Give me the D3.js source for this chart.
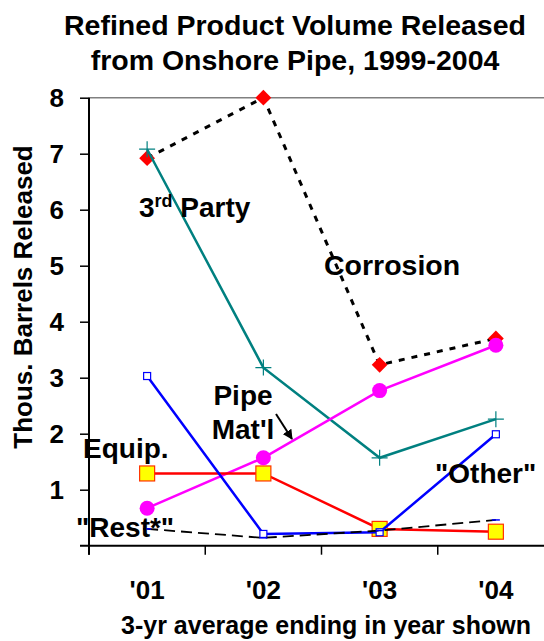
<!DOCTYPE html>
<html>
<head>
<meta charset="utf-8">
<script src="https://cdn.jsdelivr.net/npm/d3@7"></script>
<style>
  body { margin: 0; background: #fff; }
  text { font-family: "Liberation Sans", Arial, sans-serif; font-weight: bold; fill: #000; }
</style>
</head>
<body>
<svg id="chart" width="544" height="641"></svg>
<script>
var width = 544,
    height = 641;

// 3-yr averages, thousand barrels
const years = ["'01", "'02", "'03", "'04"];
const corrosion = [6.92, 8.0, 3.23, 3.7];
const third_party = [7.08, 3.18, 1.57, 2.26];
const pipe_matl = [0.67, 1.57, 2.77, 3.58];
const equip = [1.29, 1.29, 0.30, 0.25];
const other = [3.03, 0.21, 0.24, 1.99];
const rest = [0.30, 0.14, 0.27, 0.46];
const y_ticks = [1, 2, 3, 4, 5, 6, 7, 8];

const plot_left = 89, plot_right = 554, plot_top = 97.7, plot_bottom = 545.7;

var svg = d3.select("#chart");

var x = d3.scaleBand().domain(years).range([plot_left, plot_right]).padding(0);
var y = d3.scaleLinear().domain([0, 8]).range([plot_bottom, plot_top]);

function cx(d, i) {
    return x(years[i]) + x.bandwidth() / 2;
}

// Title
svg.append("text")
    .attr("x", 295).attr("y", 35)
    .attr("text-anchor", "middle")
    .style("font-size", "28.5px")
    .text("Refined Product Volume Released");
svg.append("text")
    .attr("x", 295).attr("y", 70)
    .attr("text-anchor", "middle")
    .style("font-size", "28.5px")
    .text("from Onshore Pipe, 1999-2004");

// top border line at 8
svg.append("line")
    .attr("x1", plot_left).attr("x2", plot_right)
    .attr("y1", y(8)).attr("y2", y(8))
    .attr("stroke", "#808080").attr("stroke-width", 1.5);

// Y axis
var yAxis = d3.axisLeft(y).tickValues(y_ticks).tickSize(9).tickPadding(16);
var gy = svg.append("g").attr("transform", "translate(" + plot_left + ",0)").call(yAxis);
gy.select(".domain").remove();
gy.selectAll(".tick line").attr("stroke", "#000").attr("stroke-width", 1.5);
gy.selectAll(".tick text").style("font-size", "26px").attr("fill", "#000");
svg.append("line")
    .attr("x1", plot_left).attr("x2", plot_left)
    .attr("y1", y(8)).attr("y2", plot_bottom + 9)
    .attr("stroke", "#000").attr("stroke-width", 2);

// X axis
svg.append("line")
    .attr("x1", plot_left - 9).attr("x2", plot_right)
    .attr("y1", plot_bottom).attr("y2", plot_bottom)
    .attr("stroke", "#000").attr("stroke-width", 2);
svg.append("g").selectAll("line")
    .data(years)
    .join("line")
    .attr("x1", function (d) { return x(d); })
    .attr("x2", function (d) { return x(d); })
    .attr("y1", plot_bottom).attr("y2", plot_bottom + 9)
    .attr("stroke", "#000").attr("stroke-width", 1.5);
svg.append("g").selectAll("text")
    .data(years)
    .join("text")
    .attr("x", function (d) { return x(d) + x.bandwidth() / 2; })
    .attr("y", 599)
    .attr("text-anchor", "middle")
    .style("font-size", "26px")
    .text(function (d) { return d; });

svg.append("text")
    .attr("x", 326).attr("y", 634)
    .attr("text-anchor", "middle")
    .style("font-size", "25px")
    .text("3-yr average ending in year shown");

svg.append("text")
    .attr("transform", "translate(32,297) rotate(-90)")
    .attr("text-anchor", "middle")
    .style("font-size", "26px")
    .text("Thous. Barrels Released");

var line = d3.line()
    .x(cx)
    .y(function (d) { return y(d); });

function drawLine(values, color, widthPx, dash) {
    svg.append("path")
        .datum(values)
        .attr("d", line)
        .attr("fill", "none")
        .attr("stroke", color)
        .attr("stroke-width", widthPx)
        .attr("stroke-dasharray", dash);
}

// Corrosion
drawLine(corrosion, "#000", 3, "6,7");
svg.append("g").selectAll("path")
    .data(corrosion)
    .join("path")
    .attr("d", d3.symbol().type(d3.symbolSquare).size(125))
    .attr("transform", function (d, i) { return "translate(" + cx(d, i) + "," + y(d) + ") rotate(45)"; })
    .attr("fill", "#ff0000");

// 3rd Party
drawLine(third_party, "#008080", 2.5, null);
svg.append("g").selectAll("path")
    .data(third_party)
    .join("path")
    .attr("d", "M-8,0H8M0,-8V8")
    .attr("transform", function (d, i) { return "translate(" + cx(d, i) + "," + y(d) + ")"; })
    .attr("stroke", "#008080").attr("stroke-width", 1.2);

// Pipe Mat'l
drawLine(pipe_matl, "#ff00ff", 2.5, null);
svg.append("g").selectAll("circle")
    .data(pipe_matl)
    .join("circle")
    .attr("cx", cx)
    .attr("cy", function (d) { return y(d); })
    .attr("r", 7.5)
    .attr("fill", "#ff00ff");

// Equip.
drawLine(equip, "#ff0000", 2.5, null);
svg.append("g").selectAll("rect")
    .data(equip)
    .join("rect")
    .attr("x", function (d, i) { return cx(d, i) - 7.5; })
    .attr("y", function (d) { return y(d) - 7.5; })
    .attr("width", 15).attr("height", 15)
    .attr("fill", "#ffff00")
    .attr("stroke", "#ff3300").attr("stroke-width", 1.2);

// "Other"
drawLine(other, "#0000ff", 2.5, null);
svg.append("g").selectAll("rect")
    .data(other)
    .join("rect")
    .attr("x", function (d, i) { return cx(d, i) - 3.5; })
    .attr("y", function (d) { return y(d) - 3.5; })
    .attr("width", 7).attr("height", 7)
    .attr("fill", "#fff")
    .attr("stroke", "#0000ff").attr("stroke-width", 1.2);

// "Rest*"
drawLine(rest, "#000", 1.8, "11,6");
svg.append("g").selectAll("line")
    .data(rest)
    .join("line")
    .attr("x1", function (d, i) { return cx(d, i) - 4; })
    .attr("x2", function (d, i) { return cx(d, i) + 4; })
    .attr("y1", function (d) { return y(d); })
    .attr("y2", function (d) { return y(d); })
    .attr("stroke", "#0000ff").attr("stroke-width", 1.5);

// Series labels
var lab3 = svg.append("text").attr("x", 139).attr("y", 217).style("font-size", "28px");
lab3.append("tspan").text("3");
lab3.append("tspan").attr("dy", -10).style("font-size", "18px").text("rd");
lab3.append("tspan").attr("dy", 10).text(" Party");

svg.append("text").attr("x", 324).attr("y", 275).style("font-size", "28.5px").text("Corrosion");
svg.append("text").attr("x", 243).attr("y", 405).attr("text-anchor", "middle").style("font-size", "28px").text("Pipe");
svg.append("text").attr("x", 243).attr("y", 439).attr("text-anchor", "middle").style("font-size", "28px").text("Mat'l");
svg.append("text").attr("x", 83).attr("y", 458).style("font-size", "28px").text("Equip.");
svg.append("text").attr("x", 76).attr("y", 537).style("font-size", "28px").text("\"Rest*\"");
svg.append("text").attr("x", 435).attr("y", 483).style("font-size", "28px").text("\"Other\"");

// arrow Pipe Mat'l
svg.append("defs").append("marker")
    .attr("id", "arrow")
    .attr("viewBox", "0 0 10 10")
    .attr("refX", 9).attr("refY", 5)
    .attr("markerWidth", 5).attr("markerHeight", 5)
    .attr("orient", "auto")
    .append("path").attr("d", "M0,0L10,5L0,10z").attr("fill", "#000");
svg.append("line")
    .attr("x1", 276).attr("y1", 414)
    .attr("x2", 292).attr("y2", 439)
    .attr("stroke", "#000").attr("stroke-width", 2)
    .attr("marker-end", "url(#arrow)");
</script>
</body>
</html>
